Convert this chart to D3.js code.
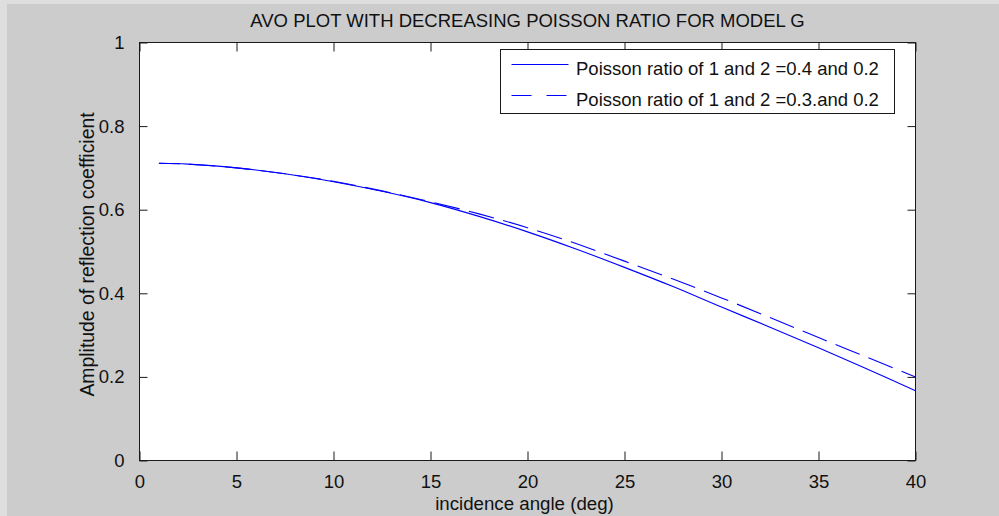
<!DOCTYPE html>
<html>
<head>
<meta charset="utf-8">
<script src="https://cdn.jsdelivr.net/npm/d3@7/dist/d3.min.js"></script>
<style>
  html, body { margin: 0; padding: 0; background: #cccccc; }
  svg { display: block; }
  text { font-family: "Liberation Sans", Arial, sans-serif; fill: #111; }
</style>
</head>
<body>
<svg id="chart" width="999" height="516"></svg>
<script>
const titleText = "AVO PLOT WITH DECREASING POISSON RATIO FOR MODEL G";
const xLabel = "incidence angle (deg)";
const yLabel = "Amplitude of reflection coefficient";
const seriesNames = ["Poisson ratio of 1 and 2 =0.4 and 0.2", "Poisson ratio of 1 and 2 =0.3.and 0.2"];

const angles = [1, 2.5, 5, 7.5, 10, 12.5, 15, 17.5, 20, 22.5, 25, 27.5, 30, 32.5, 35, 37.5, 40];
const ampSolid = [0.711, 0.709, 0.700, 0.686, 0.667, 0.644, 0.617, 0.584, 0.547, 0.506, 0.462, 0.416, 0.367, 0.319, 0.270, 0.219, 0.167];
const ampDashed = [0.711, 0.709, 0.700, 0.686, 0.668, 0.645, 0.619, 0.590, 0.557, 0.519, 0.477, 0.434, 0.389, 0.342, 0.294, 0.247, 0.200];

const xTicks = [0, 5, 10, 15, 20, 25, 30, 35, 40];
const yTicks = [0, 0.2, 0.4, 0.6, 0.8, 1];

const svg = d3.select("#chart");
const W = 999, H = 516;

// background with light top/left border
svg.append("rect").attr("x", 0).attr("y", 0).attr("width", W).attr("height", H).attr("fill", "#dedede");
svg.append("rect").attr("x", 7).attr("y", 4).attr("width", W - 7).attr("height", H - 4).attr("fill", "#cccccc");

const L = 139.5, R = 915.5, T = 42.5, B = 460.5;
const x = d3.scaleLinear().domain([0, 40]).range([L, R]);
const y = d3.scaleLinear().domain([0, 1]).range([B, T]);

// plot area
svg.append("rect").attr("x", L).attr("y", T).attr("width", R - L).attr("height", B - T).attr("fill", "#ffffff");

svg.append("clipPath").attr("id", "clip").append("rect")
  .attr("x", L).attr("y", T).attr("width", R - L).attr("height", B - T);

const line = d3.line().x(d => x(d[0])).y(d => y(d[1])).curve(d3.curveCatmullRom.alpha(0.5));

const g = svg.append("g").attr("clip-path", "url(#clip)");
g.append("path").datum(angles.map((a, i) => [a, ampSolid[i]]))
  .attr("d", line).attr("fill", "none").attr("stroke", "#0000ff").attr("stroke-width", 1.1);
const dashPath = g.append("path").datum(angles.map((a, i) => [a, ampDashed[i]]))
  .attr("d", line).attr("fill", "none").attr("stroke", "#0000ff").attr("stroke-width", 1.1)
  .attr("stroke-dasharray", "26,9.5");

// align dash phase so a dash starts near angle 29.1 deg
(function () {
  const node = dashPath.node();
  const total = node.getTotalLength();
  const targetX = x(29.1);
  let lo = 0, hi = total;
  for (let i = 0; i < 40; i++) {
    const mid = (lo + hi) / 2;
    if (node.getPointAtLength(mid).x < targetX) lo = mid; else hi = mid;
  }
  const P = 35.5;
  dashPath.attr("stroke-dashoffset", P - (lo % P));
})();

// axes box
const axG = svg.append("g");
axG.append("rect").attr("x", L).attr("y", T).attr("width", R - L).attr("height", B - T)
  .attr("fill", "none").attr("stroke", "#1a1a1a").attr("stroke-width", 1);

const xAxisB = d3.axisBottom(x).tickValues(xTicks).tickSizeInner(-9).tickSizeOuter(0).tickPadding(14).tickFormat(d3.format("d"));
const xAxisT = d3.axisTop(x).tickValues(xTicks).tickSizeInner(-9).tickSizeOuter(0).tickFormat("");
const yAxisL = d3.axisLeft(y).tickValues(yTicks).tickSizeInner(-8).tickSizeOuter(0).tickPadding(15).tickFormat(d => d === 0 || d === 1 ? d3.format("d")(d) : d3.format(".1f")(d));
const yAxisR = d3.axisRight(y).tickValues(yTicks).tickSizeInner(-8).tickSizeOuter(0).tickFormat("");

function style(sel) {
  sel.select(".domain").remove();
  sel.selectAll(".tick line").attr("stroke", "#1a1a1a").attr("stroke-width", 1);
  sel.selectAll(".tick text").attr("fill", "#111").style("font-size", "18.5px").style("font-family", "'Liberation Sans', Arial, sans-serif");
}
svg.append("g").attr("transform", `translate(0,${B})`).call(xAxisB).call(style);
svg.append("g").attr("transform", `translate(0,${T})`).call(xAxisT).call(style);
svg.append("g").attr("transform", `translate(${L},0)`).call(yAxisL).call(style);
svg.append("g").attr("transform", `translate(${R},0)`).call(yAxisR).call(style);

// title and labels
svg.append("text").attr("x", (L + R) / 2).attr("y", 26.5).attr("text-anchor", "middle")
  .style("font-size", "18.5px").text(titleText);
svg.append("text").attr("x", (L + R) / 2 - 3).attr("y", 510).attr("text-anchor", "middle")
  .style("font-size", "18.7px").text(xLabel);
svg.append("text").attr("transform", `translate(94,${(T + B) / 2 + 3}) rotate(-90)`).attr("text-anchor", "middle")
  .style("font-size", "19.4px").text(yLabel);

// legend
const lg = svg.append("g");
lg.append("rect").attr("x", 500.5).attr("y", 49.5).attr("width", 394).attr("height", 64)
  .attr("fill", "#ffffff").attr("stroke", "#1a1a1a").attr("stroke-width", 1);
const legRows = [
  { name: seriesNames[0], dash: null, y: 64.5 },
  { name: seriesNames[1], dash: "20,15", y: 95.5 }
];
legRows.forEach(r => {
  lg.append("line").attr("x1", 511.5).attr("x2", 568.5).attr("y1", r.y).attr("y2", r.y)
    .attr("stroke", "#0000ff").attr("stroke-width", 1.1)
    .attr("stroke-dasharray", r.dash);
  lg.append("text").attr("x", 576).attr("y", r.y + 10.5).style("font-size", "18.5px").text(r.name);
});
</script>
</body>
</html>
